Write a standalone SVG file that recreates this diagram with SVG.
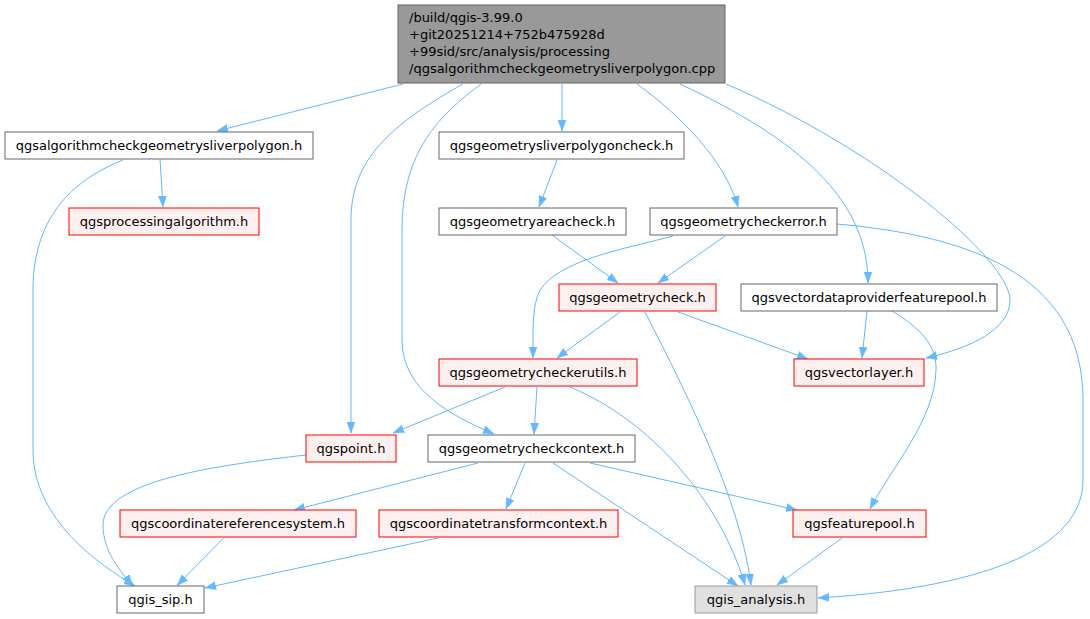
<svg xmlns="http://www.w3.org/2000/svg" width="1090" height="619" viewBox="0 0 1090 619">
<style>
text{font-family:"DejaVu Sans","Liberation Sans",sans-serif;font-size:13px;fill:#000;text-anchor:middle}
.n{fill:#fff;stroke:#666;stroke-width:1}
.r{fill:#fff0f0;stroke:#f00;stroke-width:1}
.g{fill:#e0e0e0;stroke:#999;stroke-width:1}
.root{fill:#999;stroke:#666;stroke-width:1}
#edges path{fill:none;stroke:#63b8ff;stroke-width:1;marker-end:url(#ah)}
</style>
<defs>
<marker id="ah" markerUnits="userSpaceOnUse" markerWidth="12" markerHeight="9" refX="11" refY="4.5" orient="auto">
<path d="M0,0.5 L11,4.5 L0,8.5 z" fill="#63b8ff" stroke="#63b8ff" stroke-width="0.5"/>
</marker>
</defs>
<rect width="1090" height="619" fill="#fff"/>
<g id="edges">
<path d="M403,84 L217,131"/>
<path d="M463,84 C390,125 351,160 351,220 L351,433"/>
<path d="M481,84 C440,115 402,150 402,230 L402,340 C402,390 450,415 494,434"/>
<path d="M562,84 L562,131"/>
<path d="M637,84 C680,115 725,160 738,207"/>
<path d="M680,84 C800,140 868,200 868,283"/>
<path d="M726,84 C880,150 1010,260 1010,300 C1010,330 970,348 926,358"/>
<path d="M160,159 L163,207"/>
<path d="M123,160 C60,185 33,230 33,290 L33,450 C33,520 100,565 135,586"/>
<path d="M306,455 C220,465 103,480 103,525 C103,555 125,575 132,586"/>
<path d="M223.5,538 L177,585.5"/>
<path d="M438,538 L205,588"/>
<path d="M557,160 L539,207"/>
<path d="M552,235 L618,283"/>
<path d="M725,236 L658,283"/>
<path d="M673,236 C620,250 560,260 540,290 C532,305 533,330 533,358"/>
<path d="M837,224 C960,235 1083,270 1083,400 L1083,480 C1083,560 950,590 818,598"/>
<path d="M620,312 L557,358"/>
<path d="M678,312 L808,359"/>
<path d="M645,312 C690,400 740,500 751,585"/>
<path d="M867,311 L862,358"/>
<path d="M892,311 C920,328 937,345 936,370 C935,420 890,470 870,509"/>
<path d="M505,387 L393,433"/>
<path d="M537,387 L534,434"/>
<path d="M570,387 C650,420 720,500 745,585"/>
<path d="M478,463 L294,510"/>
<path d="M525,463 L506,509"/>
<path d="M553,463 L738,586"/>
<path d="M590,463 L797,510"/>
<path d="M842,538 L777,585"/>
</g>
<g id="n0"><rect class="root" x="398" y="5" width="327" height="78"/>
<text x="409" y="22" style="text-anchor:start">/build/qgis-3.99.0</text>
<text x="409" y="39" style="text-anchor:start">+git20251214+752b475928d</text>
<text x="409" y="56" style="text-anchor:start">+99sid/src/analysis/processing</text>
<text x="409" y="73" style="text-anchor:start">/qgsalgorithmcheckgeometrysliverpolygon.cpp</text></g>
<g id="n1"><rect class="n" x="5" y="132" width="308" height="27"/><text x="159" y="150">qgsalgorithmcheckgeometrysliverpolygon.h</text></g>
<g id="n2"><rect class="r" x="69" y="208" width="190" height="27"/><text x="164" y="226">qgsprocessingalgorithm.h</text></g>
<g id="n3"><rect class="n" x="439" y="132" width="245" height="27"/><text x="561.5" y="150">qgsgeometrysliverpolygoncheck.h</text></g>
<g id="n4"><rect class="n" x="439" y="208" width="187" height="27"/><text x="532.5" y="226">qgsgeometryareacheck.h</text></g>
<g id="n5"><rect class="n" x="650" y="208" width="187" height="27"/><text x="743.5" y="226">qgsgeometrycheckerror.h</text></g>
<g id="n6"><rect class="r" x="559" y="284" width="157" height="27"/><text x="637.5" y="302">qgsgeometrycheck.h</text></g>
<g id="n7"><rect class="n" x="741" y="284" width="256" height="27"/><text x="869" y="302">qgsvectordataproviderfeaturepool.h</text></g>
<g id="n8"><rect class="r" x="794" y="359" width="130" height="27"/><text x="859" y="377">qgsvectorlayer.h</text></g>
<g id="n9"><rect class="r" x="439" y="359" width="198" height="27"/><text x="538" y="377">qgsgeometrycheckerutils.h</text></g>
<g id="n10"><rect class="r" x="306" y="435" width="90" height="27"/><text x="351" y="453">qgspoint.h</text></g>
<g id="n11"><rect class="n" x="428" y="435" width="207" height="27"/><text x="531.5" y="453">qgsgeometrycheckcontext.h</text></g>
<g id="n12"><rect class="r" x="120" y="510" width="236" height="27"/><text x="238" y="528">qgscoordinatereferencesystem.h</text></g>
<g id="n13"><rect class="r" x="379" y="510" width="239" height="27"/><text x="498.5" y="528">qgscoordinatetransformcontext.h</text></g>
<g id="n14"><rect class="r" x="793" y="510" width="133" height="27"/><text x="859.5" y="528">qgsfeaturepool.h</text></g>
<g id="n15"><rect class="n" x="117" y="586" width="87" height="27"/><text x="160.5" y="604">qgis_sip.h</text></g>
<g id="n16"><rect class="g" x="695" y="586" width="122" height="27"/><text x="756" y="604">qgis_analysis.h</text></g>
</svg>
